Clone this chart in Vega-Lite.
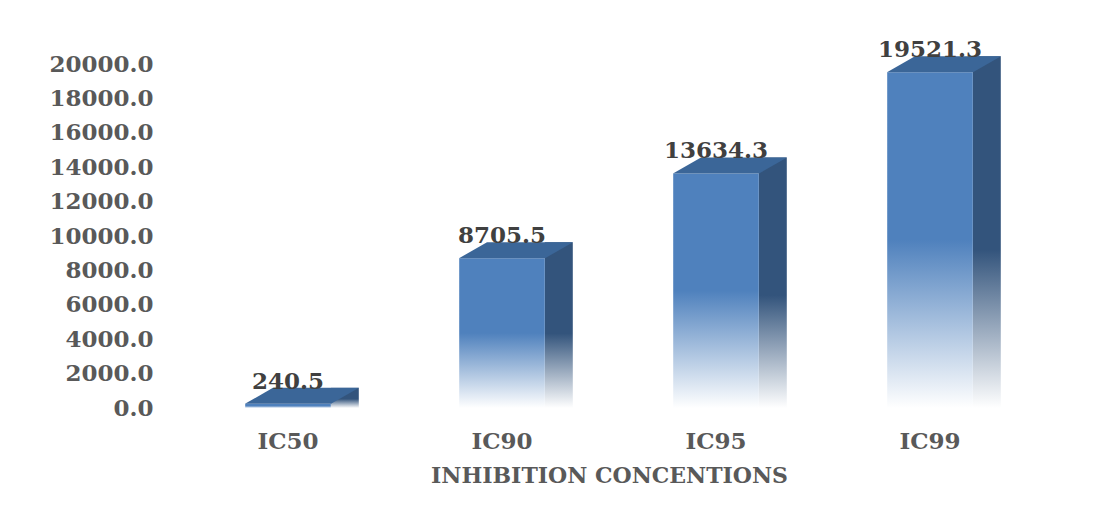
{
  "$schema": "https://vega.github.io/schema/vega-lite/v6.json",
  "autosize": {"type": "none"},
  "width": 856,
  "height": 344,
  "padding": {"left": 181, "top": 64, "right": 71, "bottom": 105},
  "background": "white",
  "config": {
    "view": {"stroke": null},
    "font": "DejaVu Serif"
  },
  "data": {
    "values": [
      {"ic": "IC50", "value": 240.5},
      {"ic": "IC90", "value": 8705.5},
      {"ic": "IC95", "value": 13634.3},
      {"ic": "IC99", "value": 19521.3}
    ]
  },
  "encoding": {
    "x": {
      "field": "ic",
      "type": "nominal",
      "sort": null,
      "scale": {"paddingInner": 0.6, "paddingOuter": 0.3},
      "axis": {
        "title": "INHIBITION CONCENTIONS",
        "labelAngle": 0,
        "domain": false,
        "ticks": false,
        "labelPadding": 22,
        "labelFont": "DejaVu Serif",
        "labelFontWeight": "bold",
        "labelFontSize": 23,
        "labelColor": "#595959",
        "labelBaseline": "top",
        "titleFont": "DejaVu Serif",
        "titleFontWeight": "bold",
        "titleFontSize": 22,
        "titleColor": "#595959",
        "titlePadding": 12
      }
    },
    "y": {
      "field": "value",
      "type": "quantitative",
      "scale": {"domain": [0, 20000], "nice": false},
      "axis": {
        "title": null,
        "values": [0, 2000, 4000, 6000, 8000, 10000, 12000, 14000, 16000, 18000, 20000],
        "format": ".1f",
        "domain": false,
        "ticks": false,
        "grid": false,
        "labelPadding": 28,
        "labelFont": "DejaVu Serif",
        "labelFontWeight": "bold",
        "labelFontSize": 23,
        "labelColor": "#595959"
      }
    }
  },
  "layer": [
    {
      "mark": {
        "type": "bar",
        "width": 28,
        "xOffset": 56.8,
        "yOffset": -16,
        "y2Offset": 0,
        "color": {
          "gradient": "linear",
          "x1": 0, "y1": 0, "x2": 0, "y2": 1,
          "stops": [
            {"offset": 0, "color": "#33547c"},
            {"offset": 0.55, "color": "#33547c"},
            {"offset": 1, "color": "#ffffff"}
          ]
        }
      },
      "encoding": {"y2": {"datum": 0}}
    },
    {
      "mark": {
        "type": "bar",
        "color": {
          "gradient": "linear",
          "x1": 0, "y1": 0, "x2": 0, "y2": 1,
          "stops": [
            {"offset": 0, "color": "#4f81bd"},
            {"offset": 0.5, "color": "#4f81bd"},
            {"offset": 1, "color": "#ffffff"}
          ]
        }
      }
    },
    {
      "mark": {
        "type": "point",
        "shape": "M-1,0.1404L0.5088,0.1404L1,-0.1404L-0.5088,-0.1404Z",
        "size": 12996,
        "filled": true,
        "opacity": 1,
        "strokeWidth": 0,
        "color": "#3b6698",
        "xOffset": 14,
        "yOffset": -8
      }
    },
    {
      "mark": {
        "type": "text",
        "dy": -15,
        "baseline": "alphabetic",
        "align": "center",
        "font": "DejaVu Serif",
        "fontWeight": "bold",
        "fontSize": 23,
        "color": "#404040"
      },
      "encoding": {"text": {"field": "value", "type": "quantitative", "format": ".1f"}}
    }
  ]
}
